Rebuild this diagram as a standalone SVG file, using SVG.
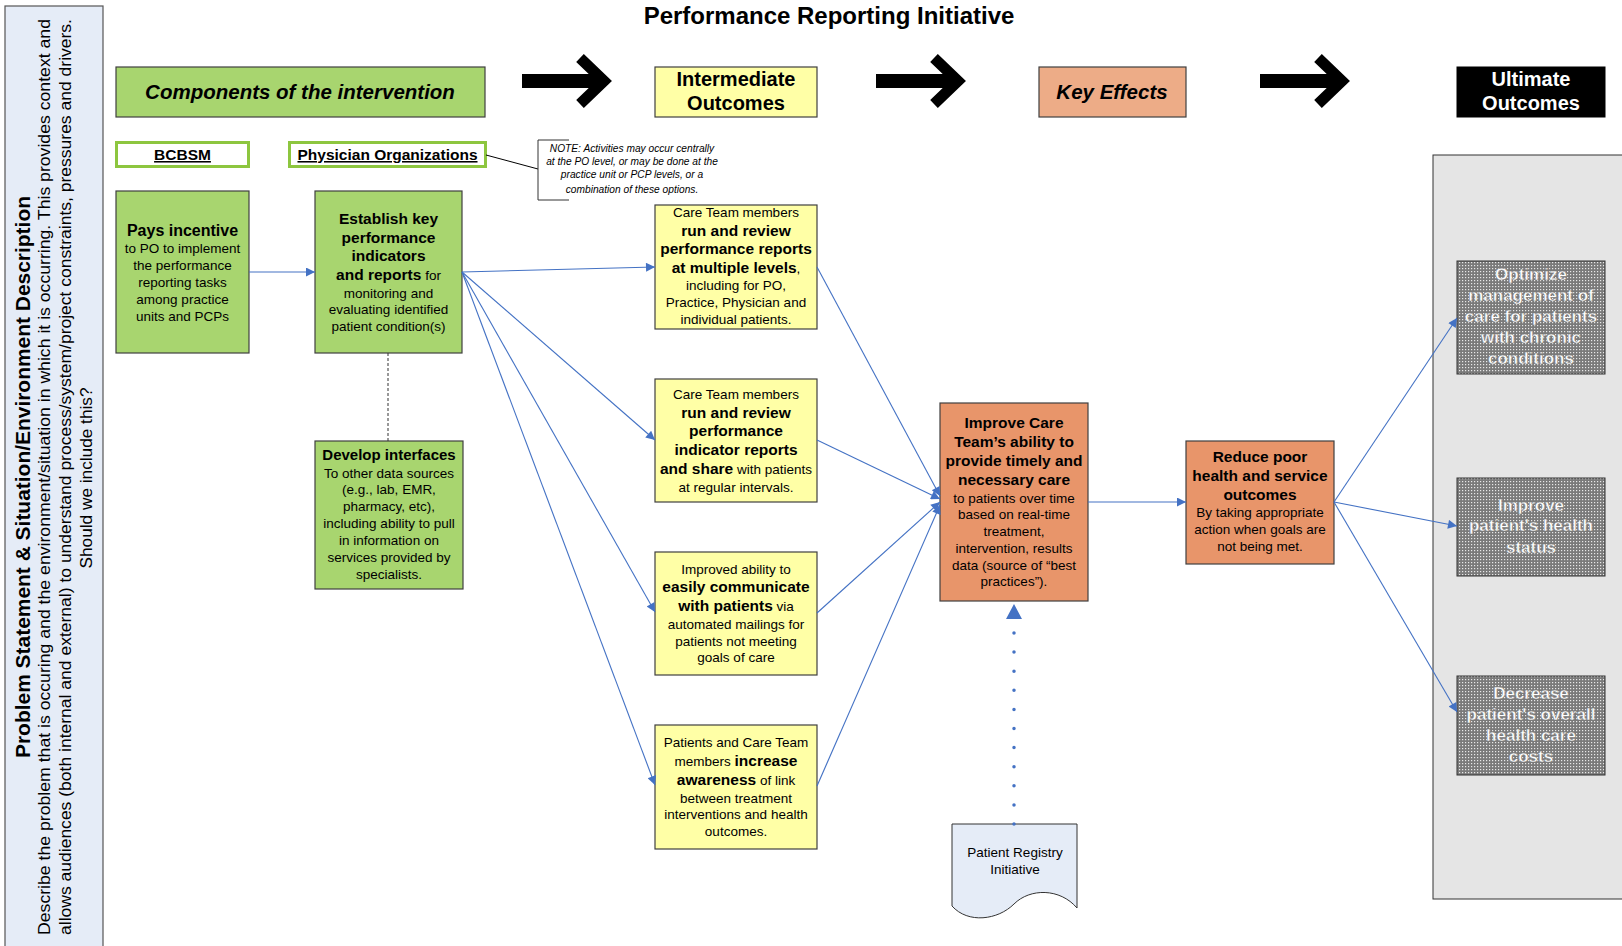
<svg xmlns="http://www.w3.org/2000/svg" width="1622" height="946" viewBox="0 0 1622 946">
<style>
text{font-family:"Liberation Sans",Arial,sans-serif;fill:#000}
.b{font-weight:bold}
.n{font-size:13.5px}
.bx{stroke:#404040;stroke-width:1.2}
.green{fill:#A8D56F}
.yel{fill:#FFFFA6}
.org{fill:#E8956A}
.conn{stroke:#4472C4;stroke-width:1.1;fill:none;marker-end:url(#ah)}
.gt{font-size:17px;font-weight:bold;fill:#fff;stroke:#777;stroke-width:0.4}
</style>
<defs>
<marker id="ah" viewBox="0 0 10 10" refX="10" refY="5" markerWidth="11" markerHeight="9" markerUnits="userSpaceOnUse" orient="auto">
<path d="M0,0 L10,5 L0,10 z" fill="#4472C4"/>
</marker>
<pattern id="dots" width="3" height="3" patternUnits="userSpaceOnUse">
<rect width="3" height="3" fill="#7a7a7a"/>
<rect x="1" y="1" width="1.2" height="1.2" fill="#e8e8e8"/>
</pattern>
<g id="bigarrow">
<path d="M0 81 H78" stroke="#000" stroke-width="14"/>
<polyline points="58,58 82,81 58,104" fill="none" stroke="#000" stroke-width="11" stroke-linejoin="miter" stroke-miterlimit="10"/>
</g>
</defs>
<rect width="1622" height="946" fill="#fff"/>

<g id="problem-panel">
<rect x="5" y="6" width="98" height="945" fill="#E5ECF7" stroke="#555" stroke-width="1.2"/>
<text class="b" font-size="21" text-anchor="middle" transform="translate(30,477) rotate(-90)" textLength="562" lengthAdjust="spacingAndGlyphs">Problem Statement &amp; Situation/Environment Description</text>
<text font-size="16.5" text-anchor="middle" transform="translate(50,477) rotate(-90)" textLength="916" lengthAdjust="spacingAndGlyphs">Describe the problem that is occuring and the environment/situation in which it is occurring.  This provides context and</text>
<text font-size="16.5" text-anchor="middle" transform="translate(71,477) rotate(-90)" textLength="916" lengthAdjust="spacingAndGlyphs">allows audiences (both internal and external)  to understand process/system/project constraints, pressures and drivers.</text>
<text font-size="16.5" text-anchor="middle" transform="translate(92,478) rotate(-90)" textLength="181" lengthAdjust="spacingAndGlyphs">Should we include this?</text>
</g>

<g id="title">
<text class="b" font-size="24" x="829" y="24" text-anchor="middle">Performance Reporting Initiative</text>
</g>

<g id="header-components">
<rect class="bx green" x="116" y="67" width="369" height="50"/>
<text class="b" font-size="20.5" font-style="italic" x="300" y="99" text-anchor="middle">Components of the intervention</text>
</g>
<g id="header-intermediate">
<rect class="bx yel" x="655" y="67" width="162" height="50"/>
<text class="b" font-size="20" x="736" y="86" text-anchor="middle">Intermediate</text>
<text class="b" font-size="20" x="736" y="110" text-anchor="middle">Outcomes</text>
</g>
<g id="header-keyeffects">
<rect class="bx" fill="#EDAC87" x="1039" y="67" width="147" height="50"/>
<text class="b" font-size="20.5" font-style="italic" x="1112" y="99" text-anchor="middle">Key Effects</text>
</g>
<g id="header-ultimate">
<rect x="1457" y="67" width="148" height="50" fill="#000" stroke="#000"/>
<text class="b" font-size="20" x="1531" y="86" text-anchor="middle" style="fill:#fff">Ultimate</text>
<text class="b" font-size="20" x="1531" y="110" text-anchor="middle" style="fill:#fff">Outcomes</text>
</g>

<g id="big-arrows">
<use href="#bigarrow" x="522"/>
<use href="#bigarrow" x="876"/>
<use href="#bigarrow" x="1260"/>
</g>

<g id="label-bcbsm">
<rect x="116.5" y="142.5" width="132" height="24" fill="#fff" stroke="#8DC63F" stroke-width="3"/>
<text class="b" font-size="15.5" x="182.5" y="160" text-anchor="middle" text-decoration="underline">BCBSM</text>
</g>
<g id="label-po">
<rect x="289.5" y="142.5" width="196" height="24" fill="#fff" stroke="#8DC63F" stroke-width="3"/>
<text class="b" font-size="15.5" x="387.5" y="160" text-anchor="middle" text-decoration="underline">Physician Organizations</text>
</g>

<g id="note">
<path d="M486 155 L538 169" stroke="#000" stroke-width="1" fill="none"/>
<path d="M569 140 H538 V200 H569" stroke="#333" stroke-width="1" fill="none"/>
<g font-size="10.2" font-style="italic" text-anchor="middle" fill="#222">
<text x="632" y="152">NOTE:  Activities may occur centrally</text>
<text x="632" y="165">at the PO level, or may be done at the</text>
<text x="632" y="178">practice unit or PCP levels, or a</text>
<text x="632" y="193">combination of these options.</text>
</g>
</g>

<g id="pays-incentive">
<rect class="bx green" x="116" y="191" width="133" height="162"/>
<g text-anchor="middle">
<text class="b" font-size="16" x="182.5" y="236">Pays incentive</text>
<text class="n" x="182.5" y="253">to PO to implement</text>
<text class="n" x="182.5" y="270">the performance</text>
<text class="n" x="182.5" y="287">reporting tasks</text>
<text class="n" x="182.5" y="304">among practice</text>
<text class="n" x="182.5" y="321">units and PCPs</text>
</g>
</g>

<g id="establish">
<rect class="bx green" x="315" y="191" width="147" height="162"/>
<g text-anchor="middle" font-size="15.5">
<text class="b" x="388.5" y="224">Establish key</text>
<text class="b" x="388.5" y="243">performance</text>
<text class="b" x="388.5" y="261">indicators</text>
<text x="388.5" y="280"><tspan class="b">and reports</tspan><tspan font-size="13.5"> for</tspan></text>
<text class="n" x="388.5" y="298">monitoring and</text>
<text class="n" x="388.5" y="314">evaluating identified</text>
<text class="n" x="388.5" y="331">patient condition(s)</text>
</g>
</g>

<g id="develop-interfaces">
<rect class="bx green" x="315" y="441" width="148" height="148"/>
<g text-anchor="middle">
<text class="b" font-size="15" x="389" y="460">Develop interfaces</text>
<text class="n" x="389" y="478">To other data sources</text>
<text class="n" x="389" y="494">(e.g., lab, EMR,</text>
<text class="n" x="389" y="511">pharmacy, etc),</text>
<text class="n" x="389" y="528">including ability to pull</text>
<text class="n" x="389" y="545">in information on</text>
<text class="n" x="389" y="562">services provided by</text>
<text class="n" x="389" y="579">specialists.</text>
</g>
</g>

<g id="io-run-review">
<rect class="bx yel" x="655" y="205" width="162" height="124"/>
<g text-anchor="middle">
<text class="n" x="736" y="217">Care Team members</text>
<text class="b" font-size="15.5" x="736" y="236">run and review</text>
<text class="b" font-size="15.5" x="736" y="254">performance reports</text>
<text x="736" y="273"><tspan class="b" font-size="15.5">at multiple levels</tspan><tspan font-size="13.5">,</tspan></text>
<text class="n" x="736" y="290">including for PO,</text>
<text class="n" x="736" y="307">Practice, Physician and</text>
<text class="n" x="736" y="324">individual patients.</text>
</g>
</g>

<g id="io-share">
<rect class="bx yel" x="655" y="379" width="162" height="123"/>
<g text-anchor="middle">
<text class="n" x="736" y="399">Care Team members</text>
<text class="b" font-size="15.5" x="736" y="418">run and review</text>
<text class="b" font-size="15.5" x="736" y="436">performance</text>
<text class="b" font-size="15.5" x="736" y="455">indicator reports</text>
<text x="736" y="474"><tspan class="b" font-size="15.5">and share</tspan><tspan font-size="13.5"> with patients</tspan></text>
<text class="n" x="736" y="492">at regular intervals.</text>
</g>
</g>

<g id="io-communicate">
<rect class="bx yel" x="655" y="552" width="162" height="123"/>
<g text-anchor="middle">
<text class="n" x="736" y="574">Improved ability to</text>
<text class="b" font-size="15.5" x="736" y="592">easily communicate</text>
<text x="736" y="611"><tspan class="b" font-size="15.5">with patients</tspan><tspan font-size="13.5"> via</tspan></text>
<text class="n" x="736" y="629">automated mailings for</text>
<text class="n" x="736" y="646">patients not meeting</text>
<text class="n" x="736" y="662">goals of care</text>
</g>
</g>

<g id="io-awareness">
<rect class="bx yel" x="655" y="725" width="162" height="124"/>
<g text-anchor="middle">
<text class="n" x="736" y="747">Patients and Care Team</text>
<text x="736" y="766"><tspan font-size="13.5">members </tspan><tspan class="b" font-size="15.5">increase</tspan></text>
<text x="736" y="785"><tspan class="b" font-size="15.5">awareness</tspan><tspan font-size="13.5"> of link</tspan></text>
<text class="n" x="736" y="803">between treatment</text>
<text class="n" x="736" y="819">interventions and health</text>
<text class="n" x="736" y="836">outcomes.</text>
</g>
</g>

<g id="improve-care">
<rect class="bx org" x="940" y="403" width="148" height="198"/>
<g text-anchor="middle">
<text class="b" font-size="15.5" x="1014" y="428">Improve Care</text>
<text class="b" font-size="15.5" x="1014" y="447">Team’s ability to</text>
<text class="b" font-size="15.5" x="1014" y="466">provide timely and</text>
<text class="b" font-size="15.5" x="1014" y="485">necessary care</text>
<text class="n" x="1014" y="503">to patients over time</text>
<text class="n" x="1014" y="519">based on real-time</text>
<text class="n" x="1014" y="536">treatment,</text>
<text class="n" x="1014" y="553">intervention, results</text>
<text class="n" x="1014" y="570">data (source of “best</text>
<text class="n" x="1014" y="586">practices”).</text>
</g>
</g>

<g id="reduce-poor">
<rect class="bx org" x="1186" y="441" width="148" height="123"/>
<g text-anchor="middle">
<text class="b" font-size="15.5" x="1260" y="462">Reduce poor</text>
<text class="b" font-size="15.5" x="1260" y="481">health and service</text>
<text class="b" font-size="15.5" x="1260" y="500">outcomes</text>
<text class="n" x="1260" y="517">By taking appropriate</text>
<text class="n" x="1260" y="534">action when goals are</text>
<text class="n" x="1260" y="551">not being met.</text>
</g>
</g>

<g id="patient-registry">
<path d="M952 824 H1077 V908 C1060 888 1030 888 1014 904 C998 920 968 924 952 906 Z" fill="#E5ECF7" stroke="#333" stroke-width="1"/>
<text class="n" x="1015" y="857" text-anchor="middle">Patient Registry</text>
<text class="n" x="1015" y="874" text-anchor="middle">Initiative</text>
</g>

<g id="ultimate-panel">
<rect x="1433" y="155" width="195" height="744" fill="#E5E5E5" stroke="#333" stroke-width="1"/>
</g>
<g id="ult-optimize">
<rect x="1457" y="261" width="148" height="113" fill="url(#dots)" stroke="#333" stroke-width="1"/>
<g text-anchor="middle">
<text class="gt" x="1531" y="280">Optimize</text>
<text class="gt" x="1531" y="301">management of</text>
<text class="gt" x="1531" y="322">care for patients</text>
<text class="gt" x="1531" y="343">with chronic</text>
<text class="gt" x="1531" y="364">conditions</text>
</g>
</g>
<g id="ult-health">
<rect x="1457" y="478" width="148" height="98" fill="url(#dots)" stroke="#333" stroke-width="1"/>
<g text-anchor="middle">
<text class="gt" x="1531" y="511">Improve</text>
<text class="gt" x="1531" y="531">patient's health</text>
<text class="gt" x="1531" y="553">status</text>
</g>
</g>
<g id="ult-costs">
<rect x="1457" y="676" width="148" height="99" fill="url(#dots)" stroke="#333" stroke-width="1"/>
<g text-anchor="middle">
<text class="gt" x="1531" y="699">Decrease</text>
<text class="gt" x="1531" y="720">patient's overall</text>
<text class="gt" x="1531" y="741">health care</text>
<text class="gt" x="1531" y="762">costs</text>
</g>
</g>

<g id="connectors">
<path d="M388 353 V441" stroke="#333" stroke-width="1" stroke-dasharray="3 2" fill="none"/>
<path class="conn" d="M249 272 H315"/>
<path class="conn" d="M462 272 L655 267"/>
<path class="conn" d="M462 272 L655 440"/>
<path class="conn" d="M462 272 L655 612"/>
<path class="conn" d="M462 272 L655 785"/>
<path class="conn" d="M817 267 L940 496"/>
<path class="conn" d="M817 440 L940 499"/>
<path class="conn" d="M817 613 L940 502"/>
<path class="conn" d="M817 786 L940 505"/>
<path class="conn" d="M1088 502 H1186"/>
<path class="conn" d="M1334 502 L1457 318"/>
<path class="conn" d="M1334 502 L1457 526"/>
<path class="conn" d="M1334 502 L1457 712"/>
<path d="M1014 824 V630" stroke="#4472C4" stroke-width="3.5" stroke-linecap="round" stroke-dasharray="0 19.1" fill="none"/>
<polygon points="1014,604 1006,619 1022,619" fill="#4472C4"/>
</g>
</svg>
